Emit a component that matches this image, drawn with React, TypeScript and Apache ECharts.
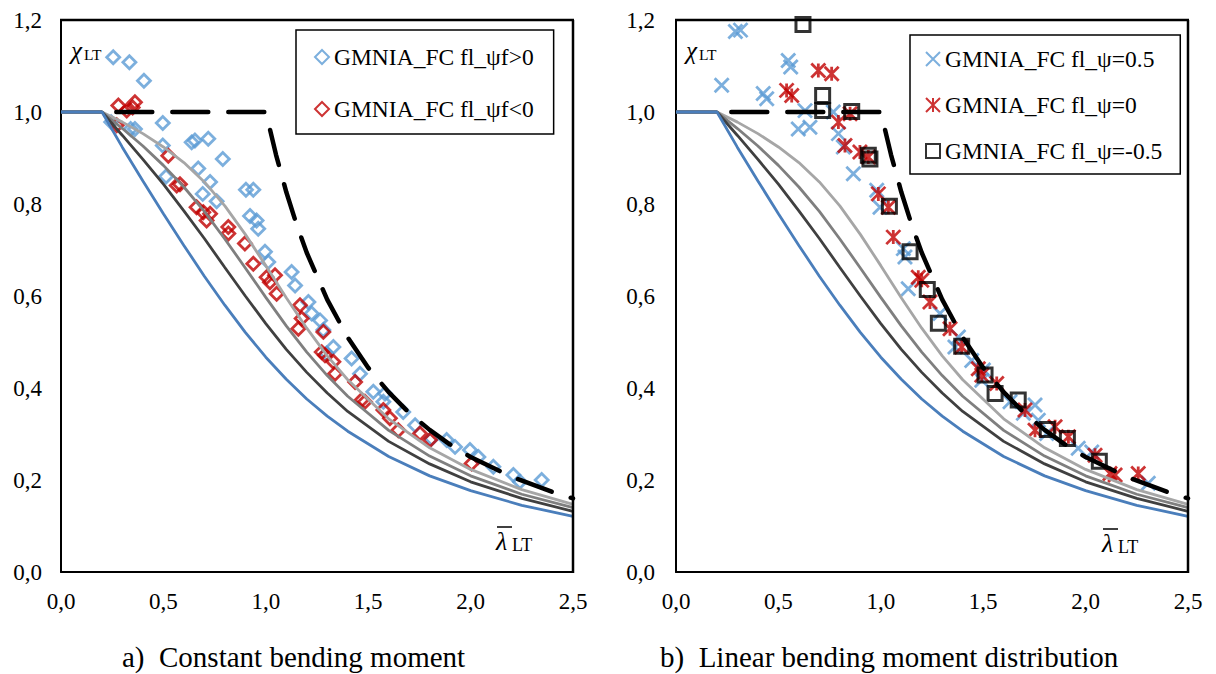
import React, { useEffect, useRef } from "react";
import * as echarts from "echarts";

const FONT = "'Liberation Serif', 'Times New Roman', serif";

// x ticks / y ticks
const xTicks = [0, 0.5, 1.0, 1.5, 2.0, 2.5];
const yTicks = [0, 0.2, 0.4, 0.6, 0.8, 1.0, 1.2];

// buckling curves
const lam = [0, 0.2, 0.3, 0.4, 0.5, 0.6, 0.7, 0.8, 0.9, 1.0, 1.1, 1.2, 1.3, 1.4, 1.6, 1.8, 2.0, 2.25, 2.5];
const curveA = [1, 1, 0.978, 0.953, 0.924, 0.890, 0.848, 0.796, 0.734, 0.666, 0.596, 0.530, 0.470, 0.418, 0.333, 0.270, 0.223, 0.179, 0.147];
const curveB = [1, 1, 0.964, 0.926, 0.884, 0.837, 0.784, 0.724, 0.661, 0.597, 0.535, 0.478, 0.427, 0.382, 0.308, 0.252, 0.209, 0.169, 0.140];
const curveC = [1, 1, 0.949, 0.897, 0.843, 0.785, 0.725, 0.662, 0.600, 0.540, 0.484, 0.434, 0.389, 0.349, 0.284, 0.235, 0.196, 0.160, 0.132];
const curveD = [1, 1, 0.923, 0.850, 0.779, 0.710, 0.643, 0.580, 0.521, 0.467, 0.419, 0.376, 0.339, 0.306, 0.251, 0.209, 0.177, 0.145, 0.121];

// elastic (dashed) curve
const lamE = [0.27, 1.0, 1.05, 1.1, 1.15, 1.2, 1.3, 1.4, 1.5, 1.6, 1.7, 1.8, 1.9, 2.0, 2.2, 2.4, 2.5];
const chiE = [1.0, 1.0, 0.907, 0.826, 0.756, 0.694, 0.592, 0.510, 0.444, 0.391, 0.346, 0.309, 0.277, 0.250, 0.207, 0.174, 0.160];

// a) constant bending moment
const psiPos: number[][] = [
  [0.255, 1.119], [0.334, 1.108], [0.405, 1.068], [0.245, 0.978], [0.340, 0.963], [0.361, 0.963],
  [0.497, 0.976], [0.497, 0.927], [0.638, 0.934], [0.654, 0.938], [0.719, 0.942], [0.790, 0.898],
  [0.513, 0.860], [0.670, 0.877], [0.728, 0.848], [0.692, 0.822], [0.760, 0.806], [0.903, 0.831],
  [0.939, 0.831], [0.923, 0.774], [0.955, 0.764], [0.963, 0.746], [0.996, 0.696], [1.012, 0.674],
  [1.126, 0.652], [1.143, 0.623], [1.208, 0.587], [1.224, 0.562], [1.265, 0.547], [1.281, 0.526],
  [1.297, 0.475], [1.330, 0.489], [1.419, 0.464], [1.460, 0.431], [1.525, 0.392], [1.582, 0.388],
  [1.574, 0.370], [1.671, 0.348], [1.729, 0.319], [1.810, 0.290], [1.883, 0.287], [1.924, 0.272],
  [1.997, 0.265], [2.038, 0.250], [2.111, 0.229], [2.209, 0.211], [2.241, 0.196], [2.347, 0.200],
];
const psiNeg: number[][] = [
  [0.280, 1.014], [0.361, 1.021], [0.350, 1.010], [0.321, 1.003], [0.272, 0.971], [0.524, 0.905],
  [0.565, 0.840], [0.581, 0.843], [0.662, 0.793], [0.695, 0.782], [0.728, 0.779], [0.711, 0.764],
  [0.817, 0.750], [0.817, 0.736], [0.898, 0.714], [0.939, 0.670], [1.004, 0.641], [1.045, 0.645],
  [1.020, 0.630], [1.053, 0.605], [1.167, 0.580], [1.175, 0.551], [1.159, 0.529], [1.281, 0.522],
  [1.273, 0.478], [1.289, 0.471], [1.330, 0.457], [1.338, 0.431], [1.436, 0.413], [1.468, 0.374],
  [1.484, 0.370], [1.574, 0.352], [1.606, 0.334], [1.647, 0.308], [1.753, 0.301], [1.802, 0.287],
  [2.005, 0.236],
];

// b) linear bending moment distribution
const psi05: number[][] = [
  [0.223, 1.058], [0.290, 1.175], [0.315, 1.178], [0.426, 1.040], [0.443, 1.029], [0.548, 1.112],
  [0.560, 1.098], [0.597, 0.963], [0.654, 0.967], [0.630, 1.003], [0.768, 1.000], [0.793, 0.953],
  [0.817, 0.924], [0.866, 0.866], [0.980, 0.830], [0.996, 0.793], [1.110, 0.703], [1.118, 0.685],
  [1.134, 0.616], [1.289, 0.562], [1.362, 0.489], [1.379, 0.511], [1.444, 0.460], [1.501, 0.439],
  [1.493, 0.417], [1.631, 0.370], [1.696, 0.345], [1.753, 0.363], [1.769, 0.330], [1.810, 0.301],
  [1.964, 0.269], [2.030, 0.261], [2.306, 0.193],
];
const psi0: number[][] = [
  [0.695, 1.090], [0.760, 1.083], [0.540, 1.047], [0.565, 1.036], [0.793, 0.978], [0.825, 0.927],
  [0.898, 0.913], [0.939, 0.902], [0.988, 0.822], [0.850, 0.996], [1.037, 0.793], [1.061, 0.728],
  [1.183, 0.641], [1.200, 0.634], [1.240, 0.587], [1.338, 0.529], [1.395, 0.489], [1.476, 0.442],
  [1.493, 0.428], [1.566, 0.410], [1.704, 0.352], [1.753, 0.308], [1.851, 0.316], [1.916, 0.294],
  [2.046, 0.254], [2.119, 0.214], [2.144, 0.211], [2.257, 0.214],
];
const psiM05: number[][] = [
  [0.620, 1.190], [0.716, 1.036], [0.716, 1.003], [0.858, 1.001], [0.939, 0.906], [0.947, 0.898],
  [1.042, 0.795], [1.143, 0.696], [1.227, 0.614], [1.281, 0.541], [1.395, 0.491], [1.509, 0.428],
  [1.558, 0.388], [1.671, 0.374], [1.813, 0.310], [1.911, 0.290], [2.067, 0.241],
];

const namesA = ["GMNIA_FC fl_\u03c8f>0", "GMNIA_FC fl_\u03c8f<0"];
const namesB = ["GMNIA_FC fl_\u03c8=0.5", "GMNIA_FC fl_\u03c8=0", "GMNIA_FC fl_\u03c8=-0.5"];
const captions = ["a)  Constant bending moment", "b)  Linear bending moment distribution"];

const fmt = (v: number) => v.toFixed(1).replace(".", ",");

const GRID_BOXES = [
  { left: 61, top: 20, width: 512, height: 552 },
  { left: 676, top: 20, width: 512, height: 552 },
];

function buildOption() {
  const axisCommon = {
    type: "value" as const,
    axisLine: { onZero: false, lineStyle: { color: "#000", width: 2 } },
    axisTick: { show: false },
    splitLine: { show: false },
  };
  const labelStyle = { fontSize: 23, fontFamily: FONT, color: "#000" };
  const xRange = { min: xTicks[0], max: xTicks[xTicks.length - 1], interval: 0.5 };
  const yRange = { min: yTicks[0], max: yTicks[yTicks.length - 1], interval: 0.2 };
  const xAxis: any[] = [0, 1].map((g) => ({
    ...axisCommon,
    ...xRange,
    gridIndex: g,
    axisLabel: { ...labelStyle, margin: 18, formatter: fmt },
  }));
  const yAxis: any[] = [0, 1].map((g) => ({
    ...axisCommon,
    ...yRange,
    gridIndex: g,
    axisLabel: { ...labelStyle, margin: g === 0 ? 19 : 21, formatter: fmt },
  }));

  const curveDefs = [
    { name: "curve a", vals: curveA, color: "#a6a6a6" },
    { name: "curve b", vals: curveB, color: "#7f7f7f" },
    { name: "curve c", vals: curveC, color: "#404040" },
    { name: "curve d", vals: curveD, color: "#4a7ebb" },
  ];
  const series: any[] = [];
  [0, 1].forEach((g) => {
    curveDefs.forEach((c) => {
      series.push({
        name: c.name,
        type: "line",
        xAxisIndex: g,
        yAxisIndex: g,
        data: lam.map((x, i) => [x, c.vals[i]]),
        showSymbol: false,
        symbol: "none",
        silent: true,
        lineStyle: { color: c.color, width: 2.8 },
      });
    });
    series.push({
      name: "elastic",
      type: "line",
      xAxisIndex: g,
      yAxisIndex: g,
      data: lamE.map((x, i) => [x, chiE[i]]),
      showSymbol: false,
      symbol: "none",
      silent: true,
      lineStyle: { color: "#000", width: 4.5, type: [36, 20], cap: "round" },
    });
  });

  const hollow = (c: string, w: number) => ({ color: "rgba(0,0,0,0)", borderColor: c, borderWidth: w });
  series.push({
    name: namesA[0], type: "scatter", xAxisIndex: 0, yAxisIndex: 0, data: psiPos,
    symbol: "diamond", symbolSize: 13, itemStyle: hollow("#5b9bd5", 2.8),
  });
  series.push({
    name: namesA[1], type: "scatter", xAxisIndex: 0, yAxisIndex: 0, data: psiNeg,
    symbol: "diamond", symbolSize: 13, itemStyle: hollow("#c00000", 2.8),
  });
  series.push({
    name: namesB[0], type: "scatter", xAxisIndex: 1, yAxisIndex: 1, data: psi05,
    symbol: "path://M0,0L10,10M10,0L0,10", symbolSize: 14, itemStyle: hollow("#5b9bd5", 2.8),
  });
  series.push({
    name: namesB[1], type: "scatter", xAxisIndex: 1, yAxisIndex: 1, data: psi0,
    symbol: "path://M0,0L10,10M10,0L0,10M5,0L5,10", symbolSize: 14, itemStyle: hollow("#c00000", 2.8),
  });
  series.push({
    name: namesB[2], type: "scatter", xAxisIndex: 1, yAxisIndex: 1, data: psiM05,
    symbol: "rect", symbolSize: 14, itemStyle: hollow("#000", 3),
  });

  const legendCommon = {
    orient: "vertical" as const,
    borderColor: "#000",
    borderWidth: 1.5,
    itemWidth: 14,
    itemHeight: 14,
    selectedMode: false,
    textStyle: { fontSize: 23.5, fontFamily: FONT, color: "#000" },
  };
  const legend = [
    { ...legendCommon, data: namesA, left: 296, top: 30, padding: [15, 20, 13, 18], itemGap: 28 },
    { ...legendCommon, data: namesB, left: 910, top: 35, padding: [12, 18, 11, 15], itemGap: 22 },
  ];

  const txt = (text: string, x: number, y: number, size: number, italic: boolean, align = "left", va = "bottom") => ({
    type: "text",
    x,
    y,
    silent: true,
    style: {
      text,
      fontSize: size,
      fontFamily: FONT,
      fontStyle: italic ? "italic" : "normal",
      fill: "#000",
      align,
      verticalAlign: va,
    },
  });

  const seg = (x1: number, y1: number, x2: number, y2: number, w = 2, color = "#000") => ({
    type: "line",
    silent: true,
    z: 100,
    shape: { x1, y1, x2, y2 },
    style: { stroke: color, lineWidth: w },
  });

  const frames: any[] = [];
  GRID_BOXES.forEach((b) => {
    const r = b.left + b.width;
    const bt = b.top + b.height;
    frames.push(seg(b.left - 1, b.top, r + 1, b.top, 2.5, "#000"));
    frames.push(seg(r, b.top, r, bt + 1, 2.5, "#000"));
  });

  const graphic: any[] = [
    ...frames,
    // chi_LT labels
    txt("\u03c7", 71, 63, 25, true),
    txt("LT", 84, 62, 15.5, false),
    txt("\u03c7", 686, 63, 25, true),
    txt("LT", 699, 62, 15.5, false),
    // lambda_LT labels
    txt("\u03bb", 496, 554, 26, true),
    txt("LT", 512, 554, 18, false),
    txt("\u03bb", 1102, 556, 26, true),
    txt("LT", 1118, 556, 18, false),
    seg(497, 527, 512, 527, 1.5),
    seg(1103, 529, 1118, 529, 1.5),
    // captions
    txt(captions[0], 122, 657, 29, false, "left", "middle"),
    txt(captions[1], 660, 657, 29, false, "left", "middle"),
  ];

  return {
    animation: false,
    backgroundColor: "#fff",
    grid: GRID_BOXES,
    xAxis,
    yAxis,
    legend,
    series,
    graphic,
  };
}

export default function App() {
  const ref = useRef<HTMLDivElement>(null);
  useEffect(() => {
    if (!ref.current) return;
    const chart = echarts.init(ref.current, undefined, { renderer: "svg" });
    chart.setOption(buildOption() as any);
    return () => chart.dispose();
  }, []);
  return (
    <div
      ref={ref}
      style={{ position: "absolute", left: 0, top: 0, width: 1216, height: 674, background: "#fff" }}
    />
  );
}
